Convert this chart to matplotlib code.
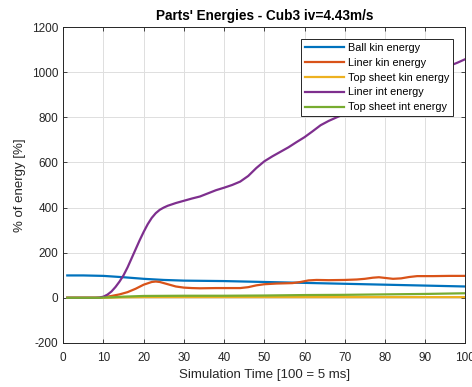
import matplotlib
matplotlib.use("Agg")
import matplotlib.pyplot as plt

plt.rcParams['font.family'] = ['Liberation Sans', 'DejaVu Sans']
plt.rcParams['axes.unicode_minus'] = False

title = "Parts' Energies - Cub3 iv=4.43m/s"
xlabel = "Simulation Time [100 = 5 ms]"
ylabel = "% of energy [%]"

series_names = ["Ball kin energy", "Liner kin energy", "Top sheet kin energy",
                "Liner int energy", "Top sheet int energy"]

t_ball = [1, 5, 10, 15, 20, 25, 30, 35, 40, 45, 50, 55, 60, 65, 70, 75, 80, 85, 90, 95, 100]
ball_kin = [99, 99, 97, 91, 84, 79, 76, 75, 74, 72, 70, 68, 66, 64, 62, 60, 58, 56, 54, 52, 50]

t_liner_kin = [1, 5, 9, 10, 12, 14, 16, 18, 20, 22, 23, 24, 26, 28, 30, 32, 34, 38, 41, 44, 46,
               48, 50, 53, 57, 59, 61, 63, 66, 70, 73, 75, 77, 78.5, 80, 82, 84, 86, 88, 92, 96, 100]
liner_kin = [0, 0, 0, 2, 8, 15, 25, 40, 58, 70, 72, 70, 60, 50, 45, 43, 42, 43, 43, 43, 47,
             55, 60, 63, 65, 70, 77, 79, 78, 79, 81, 84, 89, 91, 88, 84, 86, 92, 96, 96, 97, 97]

t_sheet = [1, 5, 9, 10, 12, 15, 20, 30, 40, 50, 60, 70, 80, 90, 100]
sheet_kin = [0, 0, 0, 0, 1, 2, 3, 3, 3, 3, 3, 3, 3, 3, 3]
sheet_int = [0, 0, 0, 1, 2, 5, 8, 9, 9, 10, 12, 13, 15, 17, 20]

t_liner_int = [1, 5, 8, 9, 10, 11, 12, 13, 14, 15, 16, 17, 18, 19, 20, 21, 22, 23, 24, 25, 26,
               28, 30, 32, 34, 36, 38, 40, 42, 44, 46, 48, 50, 52, 54, 56, 58, 60, 62, 64, 66,
               68, 70, 72, 75, 78, 81, 84, 87, 90, 93, 96, 98, 100]
liner_int = [0, 0, 0, 1, 5, 14, 28, 48, 72, 100, 135, 175, 215, 255, 292, 326, 354, 375, 390, 400, 408,
             420, 430, 440, 449, 463, 477, 488, 500, 515, 540, 575, 605, 627, 647, 667, 690, 712, 738, 765, 784,
             800, 815, 835, 865, 895, 925, 955, 982, 1003, 1018, 1028, 1042, 1058]

colors = ["#0072BD", "#D95319", "#EDB120", "#7E2F8E", "#77AC30"]

fig = plt.figure(figsize=(4.72, 3.87), dpi=100)
ax = fig.add_axes([0.134, 0.114, 0.852, 0.816])

lw = 1.6
ax.plot(t_ball, ball_kin, color=colors[0], lw=lw, label=series_names[0])
ax.plot(t_liner_kin, liner_kin, color=colors[1], lw=lw, label=series_names[1])
ax.plot(t_sheet, sheet_kin, color=colors[2], lw=lw, label=series_names[2])
ax.plot(t_liner_int, liner_int, color=colors[3], lw=lw, label=series_names[3])
ax.plot(t_sheet, sheet_int, color=colors[4], lw=lw, label=series_names[4])

ax.set_xlim(0, 100)
ax.set_ylim(-200, 1200)
ax.set_xticks(range(0, 101, 10))
ax.set_yticks(range(-200, 1201, 200))
ax.grid(True, color='#dfdfdf', lw=0.7)
ax.set_axisbelow(True)
ax.tick_params(direction='in', top=True, right=True, labelsize=8.5, colors='#262626',
               length=3, width=0.6)
ax.tick_params(axis='x', pad=6.5)
for s in ax.spines.values():
    s.set_color('#262626')
    s.set_linewidth(0.7)

ax.set_title(title, fontsize=9.8, fontweight='bold', color='black', pad=5)
ax.set_xlabel(xlabel, fontsize=9.5, color='#262626', labelpad=4)
ax.set_ylabel(ylabel, fontsize=9.5, color='#262626', labelpad=4)

leg = ax.legend(loc='upper right', fontsize=7.8, frameon=True, fancybox=False,
                edgecolor='#262626', framealpha=1, handlelength=3.6, handletextpad=0.4,
                borderpad=0.35, labelspacing=0.45, borderaxespad=1.1)
leg.get_frame().set_linewidth(0.7)

fig.savefig("out.png", dpi=100)
